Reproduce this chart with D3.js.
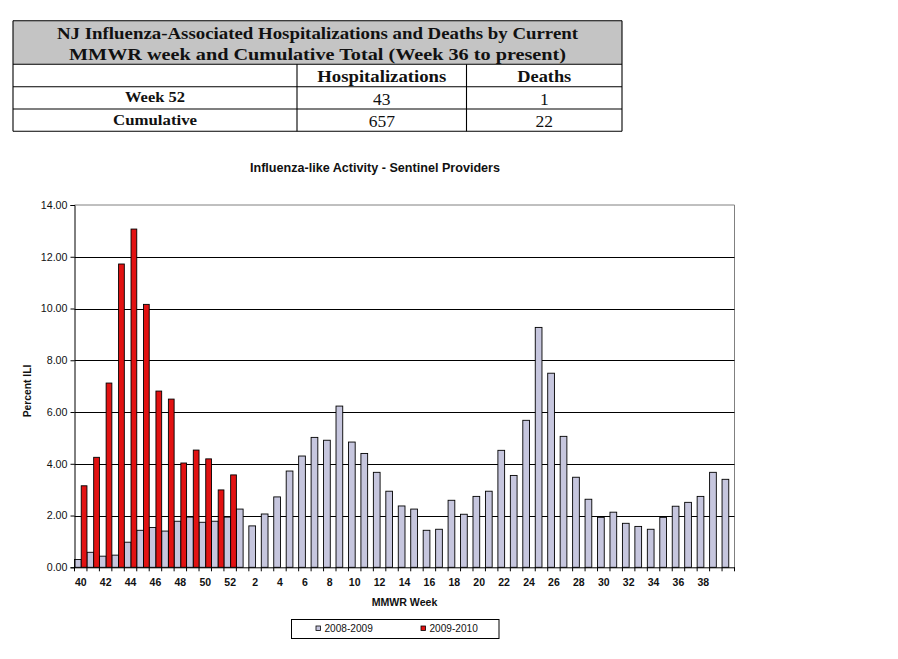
<!DOCTYPE html>
<html>
<head>
<meta charset="utf-8">
<script src="https://cdn.jsdelivr.net/npm/d3@7/dist/d3.min.js"></script>
<style>
  html, body { margin: 0; padding: 0; background: #fff; }
  svg { display: block; }
</style>
</head>
<body>
<svg id="chart" width="898" height="659"></svg>
<script>
// ---------- DATA ----------
const tableTitle = [
  "NJ Influenza-Associated Hospitalizations and Deaths by Current",
  "MMWR week and Cumulative Total (Week 36 to present)"
];
const tableColumns = ["", "Hospitalizations", "Deaths"];
const tableRowLabels = ["Week 52", "Cumulative"];
const hospitalizations = [43, 657];
const deaths = [1, 22];

const chartTitle = "Influenza-like Activity - Sentinel Providers";
const yTitle = "Percent ILI";
const xTitle = "MMWR Week";
const seriesNames = ["2008-2009", "2009-2010"];

const weeks = ["40","41","42","43","44","45","46","47","48","49","50","51","52",
  "1","2","3","4","5","6","7","8","9","10","11","12","13","14","15","16","17","18","19","20",
  "21","22","23","24","25","26","27","28","29","30","31","32","33","34","35","36","37","38","39","40"];
const xTickLabels = ["40","","42","","44","","46","","48","","50","","52",
  "","2","","4","","6","","8","","10","","12","","14","","16","","18","","20",
  "","22","","24","","26","","28","","30","","32","","34","","36","","38","",""];

const season0809 = [0.30,0.58,0.43,0.47,0.97,1.43,1.54,1.40,1.78,1.94,1.74,1.78,1.94,
  2.25,1.60,2.06,2.72,3.72,4.30,5.02,4.91,6.23,4.84,4.40,3.67,2.94,2.37,2.25,1.43,1.47,2.59,2.05,2.74,
  2.94,4.52,3.55,5.68,9.27,7.50,5.06,3.48,2.63,1.93,2.13,1.70,1.58,1.47,1.93,2.36,2.51,2.74,3.67,3.40];
const season0910 = [3.15,4.25,7.12,11.72,13.07,10.16,6.81,6.50,4.03,4.53,4.19,2.99,3.57];

const yTicks = [0,2,4,6,8,10,12,14];

// ---------- STYLE / LAYOUT ----------
const colors = ["#c6c6de", "#e21212"];
const sans = "'Liberation Sans', Arial, sans-serif";
const serif = "'Liberation Serif', 'Times New Roman', serif";

const svg = d3.select("#chart");
svg.append("rect").attr("width", 898).attr("height", 659).attr("fill", "#fff");

// ---------- TABLE ----------
const T = { left: 13, right: 622, top: 20.7, titleBottom: 64.3, rows: [86.7, 109, 131.3], cols: [297, 466.5] };
const tg = svg.append("g");
tg.append("rect").attr("x", T.left).attr("y", T.top).attr("width", T.right - T.left)
  .attr("height", T.titleBottom - T.top).attr("fill", "#c4c4c4");
const hLines = [T.top, T.titleBottom].concat(T.rows);
tg.selectAll("line.h").data(hLines).join("line")
  .attr("x1", T.left).attr("x2", T.right).attr("y1", d => d).attr("y2", d => d)
  .attr("stroke", "#000").attr("stroke-width", 1.1);
tg.selectAll("line.v").data([T.left, T.right]).join("line")
  .attr("x1", d => d).attr("x2", d => d).attr("y1", T.top).attr("y2", T.rows[2])
  .attr("stroke", "#000").attr("stroke-width", 1.1);
tg.selectAll("line.c").data(T.cols).join("line")
  .attr("x1", d => d).attr("x2", d => d).attr("y1", T.titleBottom).attr("y2", T.rows[2])
  .attr("stroke", "#000").attr("stroke-width", 1.1);

const tcx = (T.left + T.right) / 2;
const colCenters = [(T.left + T.cols[0]) / 2, (T.cols[0] + T.cols[1]) / 2, (T.cols[1] + T.right) / 2];

function stretchedText(g, txt, x, y, size, weight, targetW) {
  const t = g.append("text").attr("x", x).attr("y", y).attr("text-anchor", "middle")
    .attr("font-family", serif).attr("font-size", size).attr("font-weight", weight)
    .attr("fill", "#111").text(txt);
  if (targetW) t.attr("textLength", targetW).attr("lengthAdjust", "spacingAndGlyphs");
  return t;
}
stretchedText(tg, tableTitle[0], tcx, 38.5, 17.5, "bold", 521);
stretchedText(tg, tableTitle[1], tcx, 59.5, 17.5, "bold", 497);
stretchedText(tg, tableColumns[1], colCenters[1], 81.7, 16, "bold", 129);
stretchedText(tg, tableColumns[2], colCenters[2], 81.7, 16, "bold", 54);
const rowBase = [102.3, 125];
const valBase = [105, 126.8];
const rowLabelW = [60, 84];
tableRowLabels.forEach((r, i) => {
  stretchedText(tg, r, colCenters[0], rowBase[i], 15.5, "bold", rowLabelW[i]);
  stretchedText(tg, String(hospitalizations[i]), colCenters[1], valBase[i], 17.5, "normal", null);
  stretchedText(tg, String(deaths[i]), colCenters[2], valBase[i], 17.5, "normal", null);
});

// ---------- CHART ----------
const P = { left: 74.5, right: 734.5, top: 205, bottom: 567.3 };
const x = d3.scaleBand().domain(d3.range(weeks.length)).range([P.left, P.right]).padding(0);
const y = d3.scaleLinear().domain([0, 14]).range([P.bottom, P.top]);
const bw = x.bandwidth();
const grayFrac = 0.54;

const cg = svg.append("g");

// plot border (gray) top & right
cg.append("line").attr("x1", P.left).attr("x2", P.right).attr("y1", y(14)).attr("y2", y(14))
  .attr("stroke", "#808080").attr("stroke-width", 1);
cg.append("line").attr("x1", P.right).attr("x2", P.right).attr("y1", P.top).attr("y2", P.bottom)
  .attr("stroke", "#808080").attr("stroke-width", 1);

// gridlines
cg.selectAll("line.grid").data(yTicks.filter(d => d > 0 && d < 14)).join("line")
  .attr("x1", P.left).attr("x2", P.right).attr("y1", d => Math.round(y(d)) + 0.5).attr("y2", d => Math.round(y(d)) + 0.5)
  .attr("stroke", "#000").attr("stroke-width", 1);

// bars 2008-2009
cg.selectAll("rect.s0").data(season0809).join("rect")
  .attr("x", (d, i) => x(i)).attr("width", bw * grayFrac)
  .attr("y", d => y(d)).attr("height", d => y(0) - y(d))
  .attr("fill", colors[0]).attr("stroke", "#000").attr("stroke-width", 0.9);
// bars 2009-2010
cg.selectAll("rect.s1").data(season0910).join("rect")
  .attr("x", (d, i) => x(i) + bw * grayFrac).attr("width", bw * (1 - grayFrac))
  .attr("y", d => y(d)).attr("height", d => y(0) - y(d))
  .attr("fill", colors[1]).attr("stroke", "#000").attr("stroke-width", 0.9);

// y axis
const yAxis = d3.axisLeft(y).tickValues(yTicks).tickFormat(d3.format(".2f")).tickSize(4).tickPadding(3);
const yg = cg.append("g").attr("transform", `translate(${P.left},0)`).call(yAxis);
yg.select(".domain").attr("stroke", "#000");
yg.selectAll(".tick line").attr("stroke", "#000");
yg.selectAll("text").attr("font-family", sans).attr("font-size", 10.7).attr("fill", "#111");

// x axis (labels)
const xAxis = d3.axisBottom(x).tickFormat(i => xTickLabels[i]).tickSize(0).tickPadding(11.5);
const xg = cg.append("g").attr("transform", `translate(0,${P.bottom})`).call(xAxis);
xg.select(".domain").attr("stroke", "#000");
xg.selectAll("text").attr("font-family", sans).attr("font-size", 10.5).attr("font-weight", "bold").attr("fill", "#111");
// x ticks at category boundaries
const boundaries = d3.range(weeks.length).map(i => x(i)).concat([x(weeks.length - 1) + bw]);
cg.selectAll("line.xt").data(boundaries).join("line")
  .attr("x1", d => d).attr("x2", d => d).attr("y1", P.bottom).attr("y2", P.bottom + 4)
  .attr("stroke", "#000").attr("stroke-width", 1);

// titles
svg.append("text").attr("x", 375).attr("y", 172).attr("text-anchor", "middle")
  .attr("font-family", sans).attr("font-size", 12.6).attr("font-weight", "bold").attr("fill", "#111").text(chartTitle);
svg.append("text").attr("x", (P.left + P.right) / 2).attr("y", 605.5).attr("text-anchor", "middle")
  .attr("font-family", sans).attr("font-size", 10.6).attr("font-weight", "bold").attr("fill", "#111").text(xTitle);
svg.append("text").attr("transform", `translate(31,${391}) rotate(-90)`).attr("text-anchor", "middle")
  .attr("font-family", sans).attr("font-size", 10.3).attr("font-weight", "bold").attr("fill", "#111").text(yTitle);

// legend
const lg = svg.append("g");
lg.append("rect").attr("x", 291.5).attr("y", 619.5).attr("width", 207.5).attr("height", 19)
  .attr("fill", "#fff").attr("stroke", "#000").attr("stroke-width", 1);
const legX = [316, 421];
seriesNames.forEach((n, i) => {
  lg.append("rect").attr("x", legX[i]).attr("y", 626).attr("width", 4.5).attr("height", 4.5)
    .attr("fill", colors[i]).attr("stroke", "#000").attr("stroke-width", 0.8);
  lg.append("text").attr("x", legX[i] + 8.5).attr("y", 632.3)
    .attr("font-family", sans).attr("font-size", 10.1).attr("fill", "#111").text(n);
});
</script>
</body>
</html>
